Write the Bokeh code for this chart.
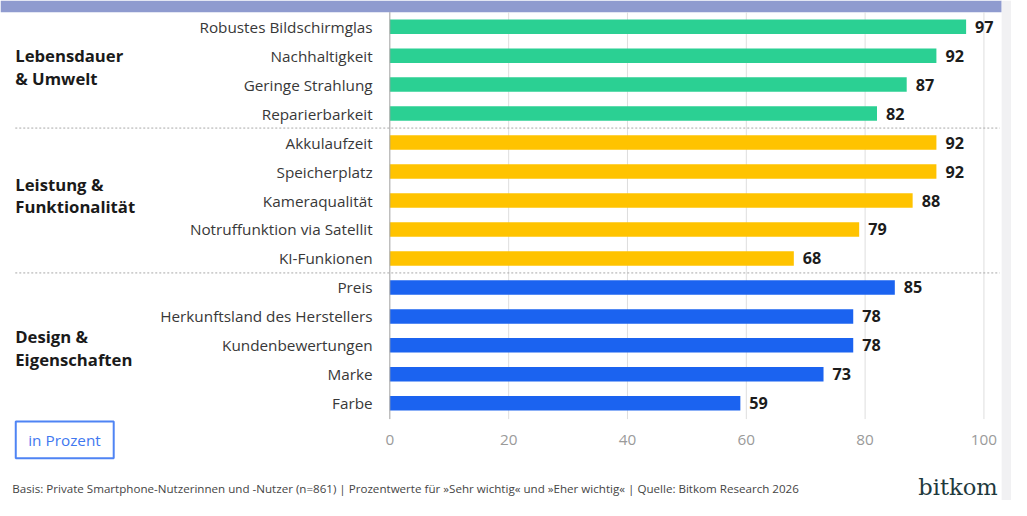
from bokeh.plotting import figure
from bokeh.models import Range1d, ColumnDataSource
from bokeh.core.properties import value
from bokeh.embed import file_html
from bokeh.resources import INLINE

# ---------------- data ----------------
categories = [
    "Robustes Bildschirmglas", "Nachhaltigkeit", "Geringe Strahlung", "Reparierbarkeit",
    "Akkulaufzeit", "Speicherplatz", "Kameraqualität", "Notruffunktion via Satellit", "KI-Funkionen",
    "Preis", "Herkunftsland des Herstellers", "Kundenbewertungen", "Marke", "Farbe",
]
values = [97, 92, 87, 82, 92, 92, 88, 79, 68, 85, 78, 78, 73, 59]
groups = ["Lebensdauer & Umwelt"] * 4 + ["Leistung & Funktionalität"] * 5 + ["Design & Eigenschaften"] * 5
group_names = ["Lebensdauer & Umwelt", "Leistung & Funktionalität", "Design & Eigenschaften"]
group_titles = [["Lebensdauer", "& Umwelt"], ["Leistung &", "Funktionalität"], ["Design &", "Eigenschaften"]]
group_colors = {"Lebensdauer & Umwelt": "#2bd093",
                "Leistung & Funktionalität": "#ffc300",
                "Design & Eigenschaften": "#1b63f0"}
x_ticks = [0, 20, 40, 60, 80, 100]
tick_labels = ["0", "20", "40", "60", "80", "100"]
unit_label = "in Prozent"
footnote = ("Basis: Private Smartphone-Nutzerinnen und -Nutzer (n=861) | Prozentwerte für "
            "»Sehr wichtig« und »Eher wichtig« | Quelle: Bitkom Research 2026")
brand = "bitkom"

# ---------------- layout ----------------
W, H = 1011, 500             # figure size (fits the window with its 8px margin)
REF_W, REF_H = 1027, 516     # design canvas, scaled onto the figure
PX_PER_UNIT = 6.035          # design pixels per percent
ZERO_PX = 395.5              # design pixel of value 0
ROW_PX = 29.9                # design pixels per row
ROW0_PX = 27.0               # design pixel (from top) of first row centre
FS = W / REF_W               # font scale


def X(px):
    return (px - ZERO_PX) / PX_PER_UNIT


def Y(py):
    return (py - ROW0_PX) / ROW_PX


def fs(px):
    return f"{px * FS:.1f}px"


p = figure(width=W, height=H, output_backend="svg", toolbar_location=None,
           x_range=Range1d(X(0), X(REF_W)), y_range=Range1d(Y(REF_H), Y(0)),
           min_border=0, min_border_left=0, min_border_right=0,
           min_border_top=0, min_border_bottom=0,
           x_axis_type=None, y_axis_type=None)
p.outline_line_color = None
p.grid.visible = False
p.background_fill_color = "white"
p.border_fill_color = "white"

FONT = value("Open Sans")

# top band and right strip
p.quad(left=[X(0)], right=[X(1017)], top=[Y(0)], bottom=[Y(12)],
       fill_color="#8f9bcf", line_color=None)
p.quad(left=[X(1017)], right=[X(1040)], top=[Y(0)], bottom=[Y(530)],
       fill_color="#f1f1f3", line_color=None)

rows = list(range(len(categories)))
grid_top, grid_bottom = Y(12), Y(432)

# vertical grid lines
n = len(x_ticks) - 1
p.segment(x0=x_ticks[1:], x1=x_ticks[1:], y0=[grid_top] * n, y1=[grid_bottom] * n,
          line_color="#dedede", line_width=1)

# group separators
seps = [i - 0.5 for i in range(1, len(groups)) if groups[i] != groups[i - 1]]
p.segment(x0=[X(15)] * len(seps), x1=[X(1015)] * len(seps), y0=seps, y1=seps,
          line_color="#a8a8a8", line_width=1, line_dash="2 2")

# bars
src = ColumnDataSource(dict(
    y=rows, v=values, cat=categories,
    color=[group_colors[g] for g in groups],
    lbl=[str(v) for v in values],
))
p.hbar(y="y", left=0, right="v", height=0.5, fill_color="color", line_color=None, source=src)

# zero axis line
p.segment(x0=[0], x1=[0], y0=[grid_top], y1=[grid_bottom], line_color="#a0a0a0", line_width=1)

# category labels
p.text(x=X(378), y="y", text="cat", source=src, text_align="right", text_baseline="middle",
       text_font=FONT, text_font_size=fs(15.5), text_color="#383838")

# value labels
p.text(x="v", y="y", text="lbl", source=src, x_offset=9, text_align="left",
       text_baseline="middle", text_font=FONT, text_font_size=fs(16.5),
       text_font_style="bold", text_color="#1c1c1c")

# group titles
title_y = {"Lebensdauer & Umwelt": (57, 80),
           "Leistung & Funktionalität": (190, 213),
           "Design & Eigenschaften": (347, 370)}
gx, gy, gt = [], [], []
for name, lines in zip(group_names, group_titles):
    for line, py in zip(lines, title_y[name]):
        gx.append(X(15))
        gy.append(Y(py))
        gt.append(line)
p.text(x=gx, y=gy, text=gt, text_align="left", text_baseline="middle",
       text_font=FONT, text_font_size=fs(17), text_font_style="bold", text_color="#1a1a1a")

# x tick labels
p.text(x=x_ticks, y=[Y(454)] * len(x_ticks), text=tick_labels, text_align="center",
       text_baseline="middle", text_font=FONT, text_font_size=fs(15.5), text_color="#9a9a9a")

# unit box
p.quad(left=[X(15.5)], right=[X(115)], top=[Y(434.5)], bottom=[Y(472.5)],
       fill_color="white", line_color="#4f84f4", line_width=2)
p.text(x=[X(65)], y=[Y(454)], text=[unit_label], text_align="center", text_baseline="middle",
       text_font=FONT, text_font_size=fs(15.5), text_color="#3f78f0")

# footnote
p.text(x=[X(12)], y=[Y(504)], text=[footnote], text_align="left", text_baseline="middle",
       text_font=FONT, text_font_size=fs(11.8), text_color="#454545")

# brand
p.text(x=[X(1013)], y=[Y(502)], text=[brand], text_align="right", text_baseline="middle",
       text_font=value("DejaVu Serif"), text_font_size=fs(23), text_color="#1f3a3d")

open("out.html", "w").write(file_html(p, INLINE))
